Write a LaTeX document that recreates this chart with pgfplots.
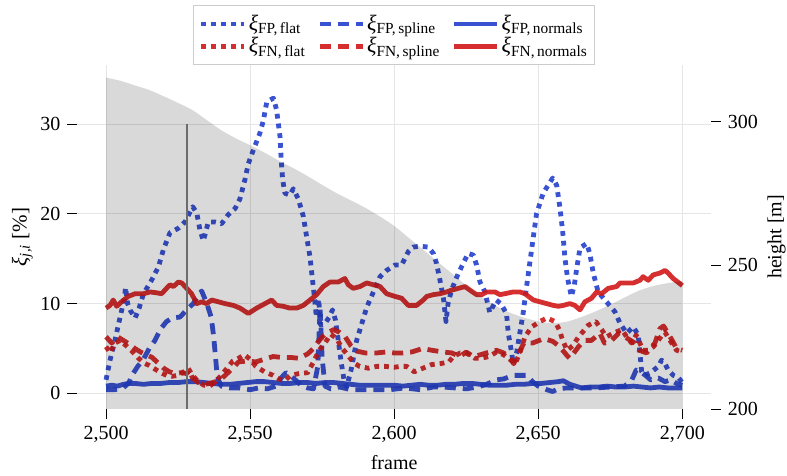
\documentclass[border=0pt]{standalone}
\usepackage{pgfplots}
\pgfplotsset{compat=1.18}
\usepackage{fontspec}
\setmainfont{Liberation Serif}

\definecolor{cblue}{RGB}{36,64,205}
\definecolor{cred}{RGB}{210,24,24}

% italic xi with an upright subscript, both in the text font
\newcommand{\xis}[1]{{\itshape ξ}\textsubscript{#1}}

\pgfplotsset{
  every axis plot/.append style={line join=round},
  legend image code/.code={\draw[#1] (0pt,0pt) -- (43pt,0pt);},
  flat/.style={line width=4.8pt, dash pattern=on 4.8pt off 5pt, draw opacity=0.9},
  spline/.style={line width=4.8pt, dash pattern=on 11pt off 7pt, draw opacity=0.9},
  normals/.style={line width=4.8pt, solid, draw opacity=0.9},
}

\begin{document}
\fontsize{20}{24}\selectfont
\begin{tikzpicture}
\path[use as bounding box] (-77.2pt,-67pt) rectangle (709.8pt,409pt);

% error rates (left axis)
\begin{axis}[
  scale only axis, width=633.9pt, height=344pt,
  xmin=2490, xmax=2710, ymin=-1.75, ymax=36.6,
  axis x line*=bottom, axis y line*=left,
  axis line style={draw=none},
  xtick={2500,2550,...,2700}, ytick={0,10,20,30},
  tick align=outside, major tick length=10pt,
  tick style={black, line width=0.9pt},
  /pgf/number format/assume math mode=true,
  grid=major, grid style={black!10, line width=1pt},
  xlabel={frame}, ylabel={\fontsize{21}{25}\selectfont\xis{\itshape j,i} [\%]},
  ylabel shift=-6pt,
  legend columns=3,
  legend cell align=left,
  legend style={at={(0.5,1)}, anchor=south, draw=black!20, line width=1pt,
    font=\fontsize{22}{27}\selectfont,
    inner xsep=5pt, inner ysep=7pt,
    /tikz/every even column/.append style={column sep=10pt}},
]
% FP, flat
\addplot[cblue, flat] coordinates {
(2500,1.5) (2501.4,3.7) (2503.1,5.9) (2504.9,8.5) (2506.3,10.5) (2506.8,11.8)
(2507.5,10.0) (2508.5,9.2) (2510.1,8.4) (2511.5,9.5) (2513.0,11.1) (2515.8,12.6)
(2518.2,14.1) (2519.9,16.0) (2522.2,17.9) (2525.1,18.4) (2527.4,19.1) (2530.1,20.8)
(2531.5,20.1) (2532.6,18.2) (2533.8,17.0) (2535.5,19.1) (2537.8,19.1) (2540.1,18.9)
(2542.4,19.9) (2544.8,20.6) (2546.5,21.7) (2548.2,23.8) (2549.4,25.6) (2551.1,27.1)
(2553.4,29.0) (2554.6,30.4) (2555.8,32.5) (2558.1,32.9) (2559.2,31.6) (2560.4,28.6)
(2560.8,26.0) (2561.3,23.8) (2562.1,22.3) (2563.8,22.1) (2565.0,22.8) (2566.7,21.7)
(2568.5,19.7) (2569.6,17.5) (2570.8,15.2) (2571.4,13.4) (2572.3,10.8) (2573.0,8.5)
(2573.8,10.5) (2574.5,7.6) (2576.0,7.8) (2577.5,8.5) (2578.6,9.3) (2579.6,8.2)
(2580.6,5.9) (2581.6,3.5) (2582.6,1.5) (2583.5,0.7) (2585.0,2.5) (2587.0,5.9)
(2590.5,9.6) (2592.8,11.3) (2595.1,13.0) (2597.4,13.7) (2600.3,14.3) (2602.6,14.3)
(2604.9,15.8) (2606.6,16.3) (2609.0,16.4) (2611.8,16.3) (2613.6,15.6) (2614.7,14.5)
(2615.9,12.6) (2617.1,10.6) (2618.0,8.0) (2618.7,10.0) (2619.9,11.5) (2622.3,13.4)
(2624.0,14.5) (2625.7,15.6) (2627.5,15.4) (2628.6,14.3) (2629.8,12.4) (2631.5,11.3)
(2633.2,9.0) (2635.4,10.4) (2637.0,10.0) (2639.0,8.9) (2639.6,6.7) (2640.8,4.5)
(2641.3,3.3) (2642.5,4.5) (2643.5,6.5) (2644.8,9.0) (2646.0,12.0) (2647.7,16.0)
(2649.4,20.0) (2651.7,22.3) (2655.0,24.0) (2656.4,23.2) (2657.5,20.8) (2658.5,18.0)
(2659.3,15.0) (2660.2,12.8) (2661.5,10.8) (2662.5,12.0) (2663.3,13.8) (2664.5,16.2)
(2666.8,16.7) (2667.9,15.6) (2669.1,13.4) (2670.8,11.3) (2673.7,10.2) (2676.6,9.1)
(2678.4,7.8) (2680.7,6.7) (2683.0,7.4) (2684.7,6.5) (2685.3,4.5) (2685.9,2.4)
(2687.0,2.0) (2689.0,2.3) (2691.7,3.0) (2692.8,3.7) (2694.0,3.3) (2695.1,2.6)
(2696.9,2.0) (2698.5,1.8) (2700.0,1.2)
};
\addlegendentry{\xis{FP,\,flat}}
% FP, spline
\addplot[cblue, spline] coordinates {
(2500,0.4) (2503,0.4) (2506,0.6) (2508,1.2) (2509,2.0) (2511,3.0) (2513,3.8)
(2515,5.0) (2517,5.9) (2519,7.2) (2521,8.0) (2523,8.4) (2525.7,8.5) (2528,9.3)
(2530.3,10.0) (2532,11.0) (2533.2,11.4) (2535,10.0) (2536.5,8.5) (2537.3,6.5)
(2537.8,4.8) (2538.4,2.6) (2539.0,1.5) (2540,0.8) (2543,0.6) (2546,0.6) (2550,0.4)
(2553,0.6) (2556,0.5) (2559,0.8) (2561,1.8) (2562.5,2.3) (2564,2.0) (2566,1.4)
(2568,0.8) (2570,0.6) (2572,0.5) (2573.5,3.0) (2574.3,9.5) (2575,4.0) (2576,0.8)
(2578,0.5) (2581,0.7) (2585,0.4) (2590,0.4) (2595,0.4) (2598.5,0.4) (2603.7,0.6)
(2609,0.4) (2613.6,0.7) (2617,0.7) (2621,0.6) (2625,0.5) (2629,0.7) (2632,1.0)
(2635.5,1.5) (2638,1.6) (2641.3,2.0) (2643,2.0) (2646,2.0) (2648,1.3) (2650,0.8)
(2653,0.4) (2655,0.2) (2657,0.5) (2660,0.6) (2665,0.6) (2670,0.6) (2675,0.7)
(2680,0.8) (2682.5,1.5) (2684,2.6) (2686,2.3) (2687.6,1.9) (2689,1.5) (2691.7,1.7)
(2694,1.3) (2696,1.5) (2698,1.1) (2700,0.9)
};
\addlegendentry{\xis{FP,\,spline}}
% FP, normals
\addplot[cblue, normals] coordinates {
(2500,0.8) (2502,0.9) (2504,0.8) (2506,1.0) (2508,1.1) (2510,1.1) (2513,1.0)
(2516,1.1) (2519,1.1) (2522,1.2) (2525,1.2) (2528,1.3) (2531,1.3) (2534,1.2)
(2537,1.1) (2540,1.0) (2543,1.0) (2546,1.1) (2549,1.2) (2552,1.3) (2555,1.3)
(2558,1.2) (2561,1.1) (2564,1.1) (2567,1.2) (2570,1.2) (2573,1.1) (2576,1.2)
(2579,1.2) (2582,1.1) (2585,1.0) (2588,0.9) (2591,0.9) (2594,0.9) (2597,0.9)
(2600,0.9) (2603,0.8) (2606,0.9) (2609,1.0) (2612,0.9) (2615,0.9) (2618,1.0)
(2621,1.0) (2624,1.1) (2627,1.1) (2630,1.0) (2633,0.9) (2636,0.9) (2639,0.9)
(2642,1.0) (2645,1.0) (2648,1.1) (2651,1.1) (2654,1.2) (2657,1.3) (2658.7,1.4)
(2661,1.0) (2663,0.8) (2665,0.6) (2668,0.7) (2671,0.7) (2674,0.8) (2677,0.7)
(2680,0.7) (2683,0.8) (2686,0.7) (2689,0.6) (2692,0.7) (2695,0.6) (2698,0.6)
(2700,0.6)
};
\addlegendentry{\xis{FP,\,normals}}
% FN, flat
\addplot[cred, flat] coordinates {
(2500,5.2) (2501.5,4.5) (2503,5.6) (2505,5.9) (2507,5.3) (2509,4.7) (2511,4.0)
(2513,3.4) (2515,3.1) (2517,2.7) (2519,2.3) (2521,2.0) (2523,1.9) (2525,2.0)
(2527,2.4) (2528.5,2.8) (2530,2.0) (2532,1.3) (2534,0.9) (2536,0.8) (2538,1.3)
(2540,2.0) (2542,2.8) (2544,3.6) (2546,3.9) (2548,4.3) (2550,3.8) (2552,3.0)
(2555,2.4) (2558,2.0) (2560,1.6) (2562,1.4) (2564,2.0) (2567,2.2) (2570,2.3)
(2572,3.5) (2574,4.8) (2576,5.6) (2578,6.6) (2580,6.1) (2582,5.0) (2584,4.2)
(2586,3.4) (2588,3.0) (2591,2.8) (2594,3.0) (2597,3.0) (2600,2.9) (2602,3.0)
(2604.3,3.0) (2607,2.4) (2610,2.8) (2613,3.2) (2616,3.3) (2619,3.5) (2620.5,4.1)
(2623,4.5) (2625,4.5) (2628,3.9) (2630,3.9) (2633,4.1) (2635.5,4.6) (2638,4.3)
(2640.5,3.7) (2642,3.3) (2643.6,4.5) (2645.4,6.3) (2647.7,7.4) (2650.6,8.0)
(2653,8.4) (2655.8,8.0) (2657.3,7.1) (2658.5,5.9) (2660,4.8) (2662,5.3) (2664,6.3)
(2665.6,6.9) (2667.4,7.6) (2670,8.0) (2672,7.1) (2673.7,6.3) (2676,6.7) (2679,7.1)
(2680.7,6.3) (2682.4,5.6) (2684,6.5) (2686.4,4.8) (2688.2,4.8) (2690,5.2)
(2691,5.6) (2693,6.5) (2694,6.8) (2695.7,5.9) (2698,4.8) (2700,4.6)
};
\addlegendentry{\xis{FN,\,flat}}
% FN, spline
\addplot[cred, spline] coordinates {
(2500,6.3) (2502,5.6) (2504,6.3) (2506,5.9) (2508,5.5) (2510,5.0) (2512,4.6)
(2514,4.3) (2516,4.0) (2518,3.4) (2520,2.8) (2522,2.4) (2524,2.2) (2526,2.3)
(2528,2.2) (2529,2.6) (2530,1.7) (2532,1.2) (2534,1.0) (2536,1.1) (2538,1.3)
(2540,1.6) (2542,2.2) (2544,2.8) (2546,3.5) (2549,3.6) (2552,3.5) (2555,3.8)
(2558,4.1) (2561,4.0) (2564,4.0) (2567,3.9) (2570,4.4) (2572,5.0) (2574,5.9)
(2576,6.6) (2579,7.1) (2581,6.8) (2583,6.3) (2585,5.3) (2587,4.7) (2590,4.5)
(2594,4.5) (2597,4.6) (2600,4.5) (2603,4.5) (2606,4.6) (2610,5.0) (2613,4.8)
(2617,4.6) (2620,4.5) (2622.8,4.1) (2625,4.6) (2627.5,4.1) (2630,4.3) (2632,4.5)
(2635.5,4.8) (2638,4.5) (2640,4.0) (2641.5,3.3) (2643,4.3) (2645,5.6) (2648,5.6)
(2652,6.1) (2655,5.8) (2657.5,5.2) (2660,4.2) (2661,3.9) (2664,5.2) (2666,5.9)
(2668.5,5.9) (2671.4,6.7) (2673,5.6) (2675.5,5.9) (2678,6.7) (2680,6.3)
(2683.6,5.6) (2685,4.8) (2687.6,4.5) (2690.5,5.6) (2692.2,7.2) (2693.5,7.5)
(2695,6.7) (2696.5,5.9) (2698,5.0) (2700,4.8)
};
\addlegendentry{\xis{FN,\,spline}}
% FN, normals
\addplot[cred, normals] coordinates {
(2500,9.5) (2501.4,9.8) (2502.5,10.4) (2503.7,9.7) (2505.4,10.2) (2507.7,10.8)
(2510.1,11.1) (2513,11.1) (2515.3,11.3) (2517.6,11.2) (2519.3,11.1) (2521,11.7)
(2522.2,12.1) (2523.4,11.9) (2525.1,12.4) (2526.3,12.3) (2528,11.7) (2529.7,11.1)
(2531.5,10.0) (2533.2,10.2) (2534.9,10.0) (2536.7,10.4) (2539,10.2) (2541.3,10.0)
(2544.2,9.8) (2546.5,9.5) (2549.4,8.9) (2552.3,9.5) (2555.2,10.0) (2557.5,10.4)
(2559.2,9.8) (2561.5,9.7) (2563.8,9.5) (2566.2,9.5) (2568.5,9.8) (2570.8,10.4)
(2573.1,11.0) (2575.4,11.9) (2577.7,12.4) (2580.6,12.4) (2582.9,12.8) (2584.1,12.1)
(2585.8,11.7) (2588.1,11.9) (2590.5,12.3) (2592.8,12.1) (2595.1,11.9) (2597.4,11.1)
(2600.3,10.8) (2602.6,10.6) (2604.9,9.8) (2607.8,9.8) (2610.1,10.4) (2611.3,10.8)
(2613.6,11.0) (2615.9,11.1) (2618.2,11.3) (2619.9,11.5) (2622.3,11.7) (2624.6,11.9)
(2626.3,11.5) (2628.6,11.0) (2630.4,11.0) (2632.1,11.3) (2635,11.3) (2636.7,11.0)
(2638.4,11.1) (2641.3,11.3) (2643.6,11.3) (2645.4,11.1) (2648.3,10.4) (2650.6,10.2)
(2652.9,10.0) (2655.2,9.8) (2657,9.7) (2658.7,9.8) (2661,10.0) (2662.7,9.8)
(2664.5,9.3) (2666.2,10.2) (2668.5,10.6) (2670.3,11.3) (2672,11.1) (2674.3,11.7)
(2677.2,11.9) (2678.4,12.3) (2680.7,12.3) (2683,12.3) (2685.3,12.6) (2686.4,13.0)
(2688.2,12.6) (2689.9,13.2) (2692.2,13.4) (2694,13.7) (2695.1,13.4) (2696.8,12.8)
(2698.9,12.3) (2700,12.0)
};
\addlegendentry{\xis{FN,\,normals}}
% selected frame
\addplot[black!50, line width=1.8pt, forget plot] coordinates {(2528,30) (2528,-1.75)};
\end{axis}

% flight height (right axis)
\begin{axis}[
  scale only axis, width=633.9pt, height=344pt,
  xmin=2490, xmax=2710, ymin=200, ymax=319.7,
  axis x line=none, axis y line*=right,
  axis line style={draw=none},
  ytick={200,250,300},
  tick align=outside, major tick length=10pt,
  tick style={black, line width=0.9pt},
  /pgf/number format/assume math mode=true,
  ylabel={height [m]},
  ylabel shift=-4pt,
]
\addplot[draw=none, fill=black, fill opacity=0.15, smooth] coordinates {
(2500,315.3) (2505,314.2) (2510,312.6) (2515,311.0) (2520,308.8) (2525,306.5)
(2530,304.0) (2535,300.5) (2540,297.0) (2545,294.2) (2550,291.8) (2555,289.2)
(2560,286.4) (2565,283.8) (2570,281.0) (2575,278.0) (2580,275.1) (2585,272.6)
(2590,270.0) (2595,267.0) (2600,263.7) (2605,259.6) (2610,255.5) (2615,251.3)
(2620,247.2) (2625,243.0) (2630,239.2) (2635,236.0) (2640,233.6) (2645,231.8)
(2650,230.5) (2655,229.9) (2660,230.4) (2665,232.0) (2670,234.0) (2675,236.3)
(2680,238.8) (2685,241.2) (2690,242.8) (2695,243.8) (2700,244.5)
} \closedcycle;
\end{axis}
\end{tikzpicture}
\end{document}
